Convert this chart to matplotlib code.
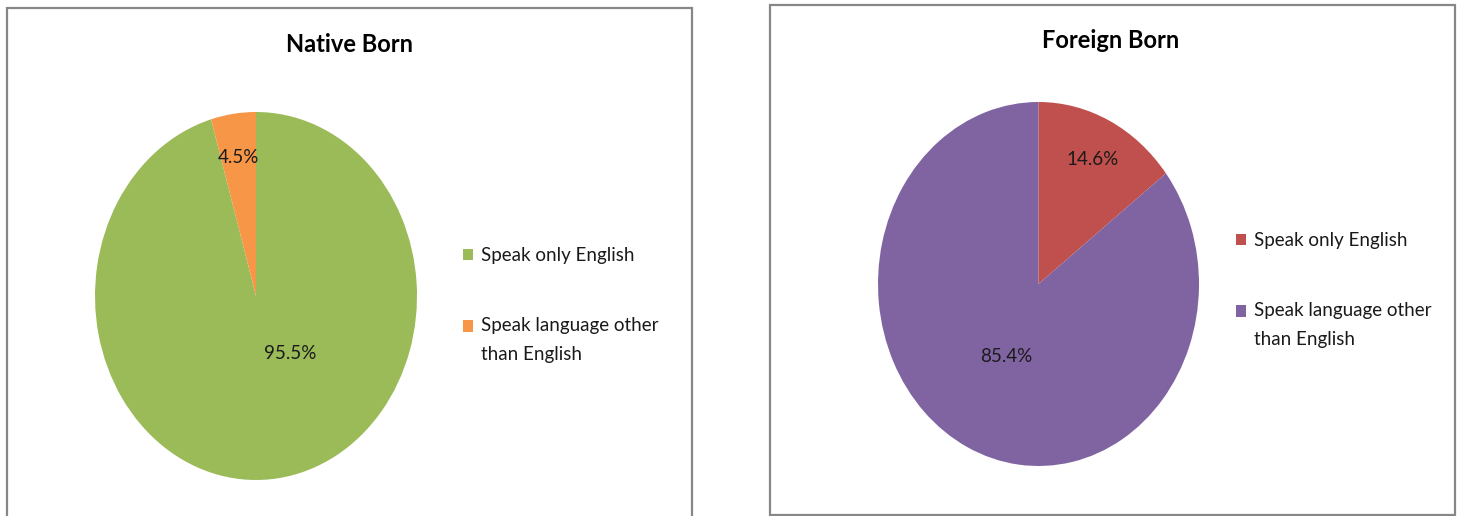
import matplotlib.pyplot as plt
from matplotlib.patches import Rectangle

plt.rcParams["font.family"] = ["Lato", "DejaVu Sans"]

categories = ["Speak only English", "Speak language other\nthan English"]
native_pct = [95.5, 4.5]
foreign_pct = [14.6, 85.4]
native_colors = ["#9BBB59", "#F79646"]
foreign_colors = ["#C0504D", "#8064A2"]

W, H = 1460, 516
fig = plt.figure(figsize=(W / 100, H / 100), dpi=100)


def px_axes(x0, y0, x1, y1):
    # axes from pixel box (top-left origin)
    return fig.add_axes([x0 / W, 1 - y1 / H, (x1 - x0) / W, (y1 - y0) / H])


def panel(x0, y0, x1, y1):
    fig.patches.append(Rectangle((x0 / W, 1 - y1 / H), (x1 - x0) / W, (y1 - y0) / H,
                                 transform=fig.transFigure, fill=False,
                                 edgecolor="#878787", linewidth=1.6))


def draw_pie(box, values, colors, title, title_xy, label_pos, legend_xy):
    ax = px_axes(*box)
    wedges, _, autotexts = ax.pie(values, colors=colors, startangle=90, counterclock=False,
                                  autopct="%.1f%%", pctdistance=0.76,
                                  textprops={"fontsize": 13.5, "color": "#1a1a1a"})
    ax.set_aspect("auto")
    ax.set_xlim(-1, 1)
    ax.set_ylim(-1, 1)
    for t, pos in zip(autotexts, label_pos):
        if pos is not None:
            t.set_position(pos)
    fig.text(title_xy[0] / W, 1 - title_xy[1] / H, title, ha="center", va="center",
             fontsize=17, fontweight="bold")
    leg = ax.legend(wedges, categories, loc="upper left",
                    bbox_to_anchor=(legend_xy[0] / W, 1 - legend_xy[1] / H),
                    bbox_transform=fig.transFigure, frameon=False, fontsize=13.5,
                    handlelength=0.55, handleheight=0.55, handletextpad=0.42,
                    labelspacing=2.82, borderpad=0, borderaxespad=0)
    for t in leg.get_texts():
        t.set_linespacing(1.87)
        t.set_color("#1a1a1a")
    # two-line entry: keep the swatch beside the first line
    for h, lab in zip(leg.legend_handles, categories):
        if "\n" in lab:
            h.set_y(h.get_y() + 10.4)
    return ax


panel(7, 8, 692, 530)
panel(770, 5, 1455, 515)

draw_pie((95, 112, 417, 480), native_pct, native_colors, "Native Born", (349, 45),
         [(0.21, -0.31), None], (463, 247))
draw_pie((878, 102, 1199, 466), foreign_pct, foreign_colors, "Foreign Born", (1111, 41),
         [None, (-0.20, -0.40)], (1236, 232))

fig.savefig("out.png", dpi=100)
